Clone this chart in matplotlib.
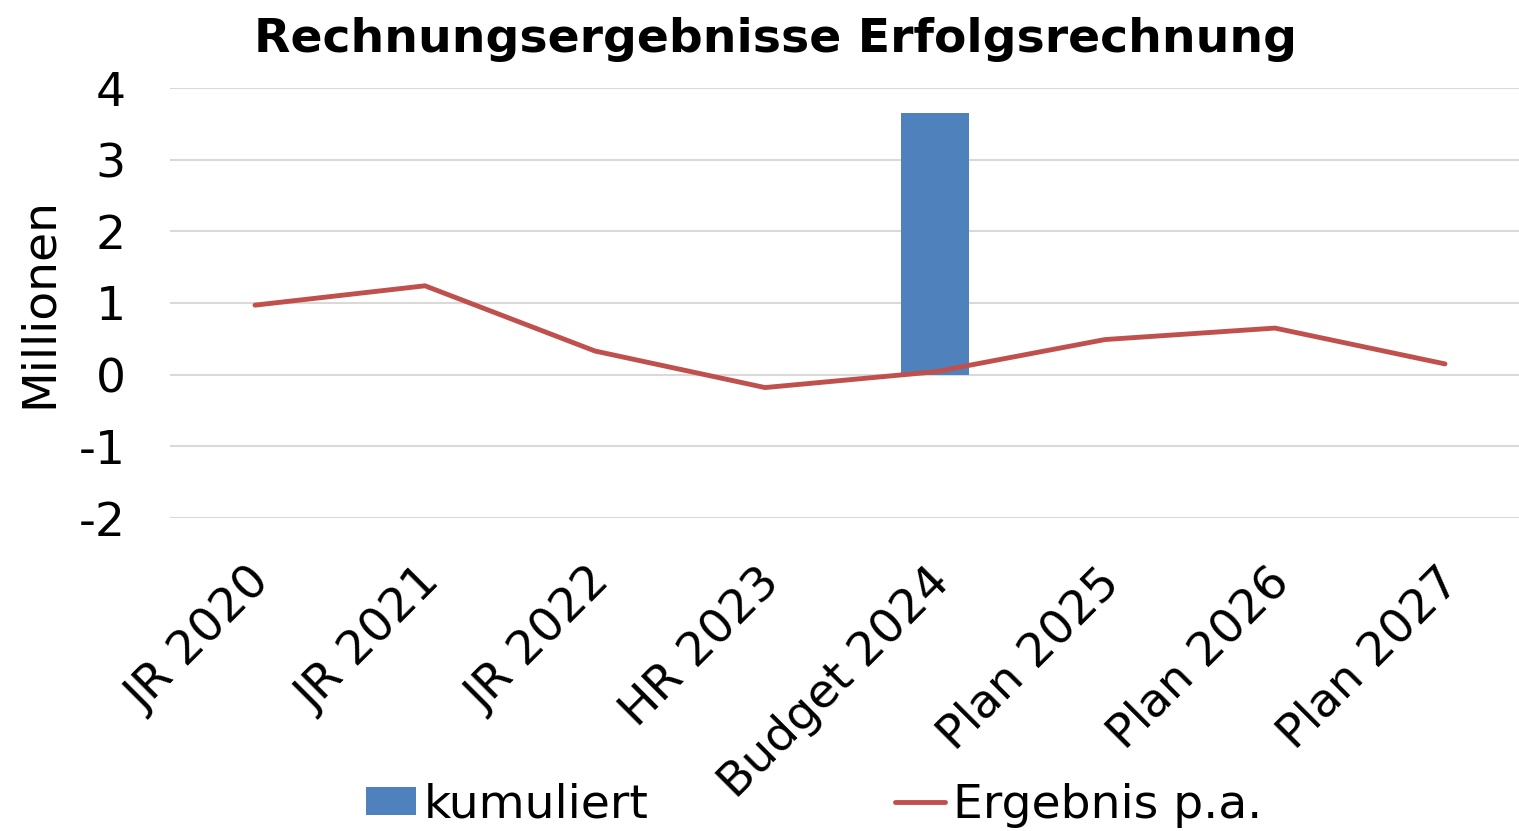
import matplotlib.pyplot as plt
import matplotlib.transforms as mtransforms
import numpy as np

# Chart data (values in millions)
categories = ['JR 2020', 'JR 2021', 'JR 2022', 'HR 2023',
              'Budget 2024', 'Plan 2025', 'Plan 2026', 'Plan 2027']
kumuliert = [0, 0, 0, 0, 3.65, 0, 0, 0]
ergebnis = [0.97, 1.24, 0.33, -0.18, 0.04, 0.49, 0.65, 0.15]

plt.rcParams['font.family'] = 'DejaVu Sans'
plt.rcParams['axes.unicode_minus'] = False

FS = 34

fig = plt.figure(figsize=(15.19, 8.31), dpi=100)
ax = fig.add_axes([170 / 1519, 1 - 518 / 831, 1360 / 1519, 430 / 831])

x = np.arange(len(categories))

# Grid lines behind everything
ax.set_axisbelow(True)
ax.grid(axis='y', color='#d9d9d9', linewidth=1.5)

bars = ax.bar(x, kumuliert, width=0.4, color='#4F81BD', label='kumuliert', zorder=2)
line, = ax.plot(x, ergebnis, color='#C0504D', linewidth=3.5, label='Ergebnis p.a.',
                solid_capstyle='round', zorder=3)

ax.set_xlim(-0.5, len(categories) - 0.5)
ax.set_ylim(-2, 4)
ax.set_yticks(np.arange(-2, 5, 1))
ax.set_xticks(x)
ax.set_xticklabels(categories, rotation=45, ha='right', rotation_mode='anchor', fontsize=FS)
ax.tick_params(axis='y', labelsize=FS, length=0, pad=32)
ax.tick_params(axis='x', length=0, pad=30)

# nudge the rotated labels a bit to the left, like the original
shift = mtransforms.ScaledTranslation(-8 / 100, 0, fig.dpi_scale_trans)
for lbl in ax.get_xticklabels():
    lbl.set_transform(lbl.get_transform() + shift)

for side in ['top', 'right', 'left', 'bottom']:
    ax.spines[side].set_visible(False)

ax.set_ylabel('Millionen', fontsize=FS, labelpad=12)

fig.suptitle('Rechnungsergebnisse Erfolgsrechnung', fontsize=FS, fontweight='bold',
             x=775 / 1519, y=1 - 39 / 831, va='center')

fig.legend(handles=[bars, line], labels=['kumuliert', 'Ergebnis p.a.'],
           loc='center', bbox_to_anchor=(814 / 1519, 1 - 805 / 831), ncol=2,
           frameon=False, fontsize=FS, handlelength=1.06, handleheight=0.53,
           handletextpad=0.17, columnspacing=5.2, borderaxespad=0, borderpad=0)

fig.savefig('out.png', dpi=100)
